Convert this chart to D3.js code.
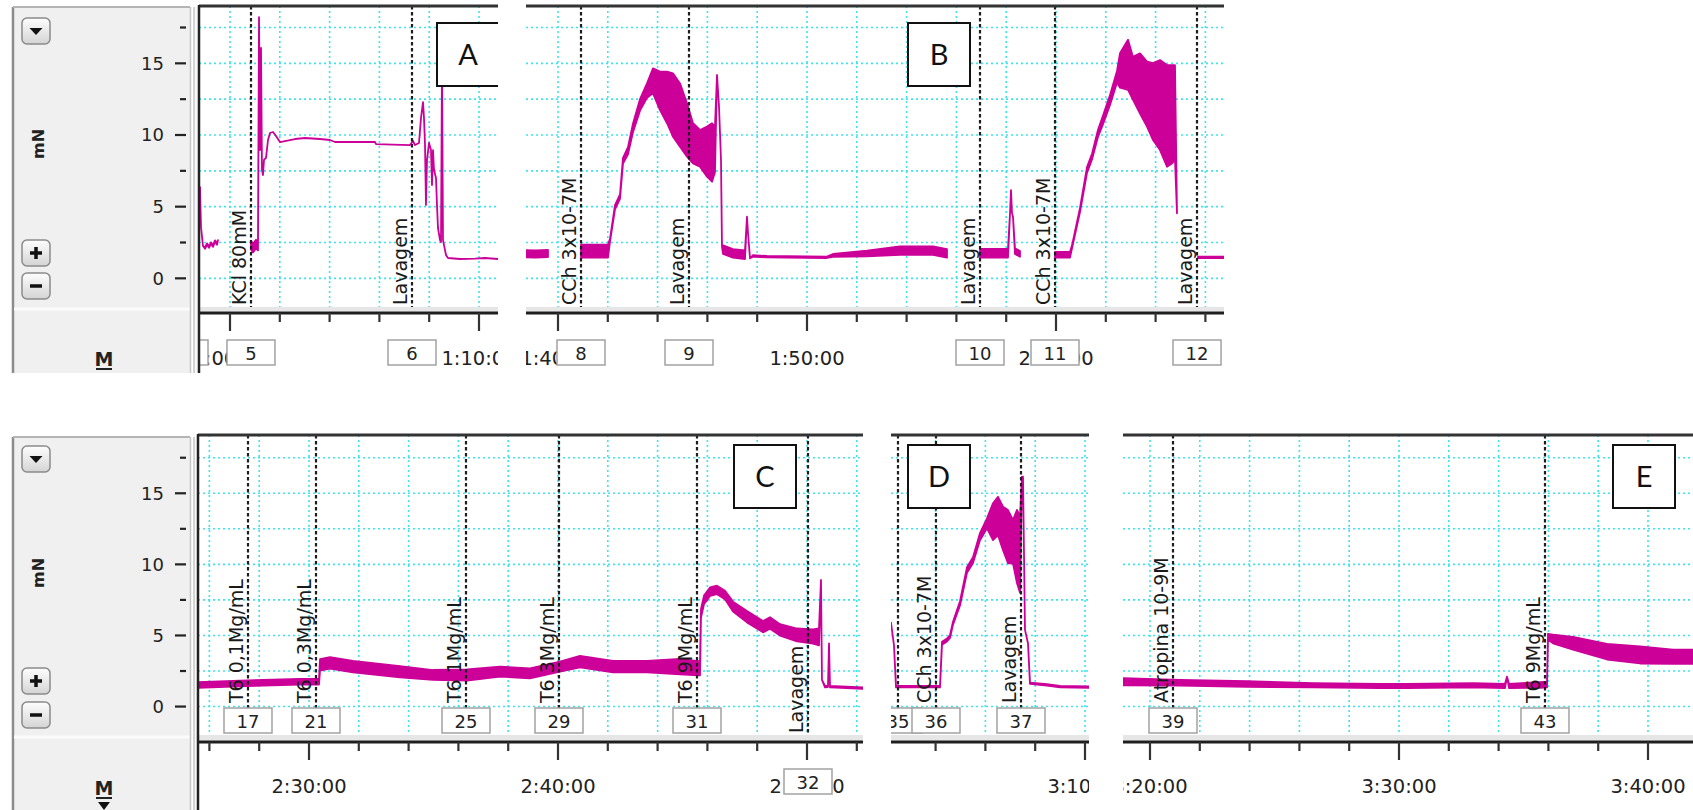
<!DOCTYPE html>
<html lang="en">
<head>
<meta charset="utf-8">
<title>Registro de tensao - mN</title>
<script src="https://cdn.jsdelivr.net/npm/d3@7/dist/d3.min.js"></script>
<style>
  body { margin: 0; background: #fff; }
  svg { display: block; font-family: "DejaVu Sans", sans-serif; }
</style>
</head>
<body>
<svg id="chart" width="1693" height="810"></svg>
<script>
// ---------- data ----------
var yDomain = [-2, 19];
var yMajor = [0, 5, 10, 15];
var yMinor = [2.5, 7.5, 12.5, 17.5];

var panelNames = ["A", "B", "C", "D", "E"];
// visible time window of each view, in minutes since 0:00:00
var viewStart = [58.755, 98.715, 145.542, 182.209, 198.916];
var viewEnd   = [70.763, 126.747, 172.249, 190.161, 221.807];

// trace blocks: [minute, mN, half width of the noise band]
var traceA1 = [[58.795, 6.37, 0], [58.835, 3.58, 0], [58.916, 2.25, 0], [58.996, 2.11, 0.05], [59.076, 2.39, 0.05],
  [59.157, 2.18, 0.05], [59.237, 2.46, 0.05], [59.317, 2.25, 0.05], [59.398, 2.60, 0.05], [59.478, 2.39, 0.05], [59.518, 2.67, 0]];
var traceA2 = [[60.843, 2.32, 0.3], [60.924, 2.11, 0.3], [61.044, 2.39, 0.3], [61.124, 2.25, 0.3],
  [61.165, 18.23, 0], [61.205, 8.95, 0], [61.245, 16.07, 0], [61.285, 7.56, 0], [61.325, 7.21, 0], [61.365, 8.26, 0],
  [61.446, 8.40, 0], [61.526, 9.65, 0], [61.606, 10.14, 0], [61.727, 10.21, 0], [61.847, 9.93, 0], [62.008, 9.51, 0],
  [62.209, 9.58, 0], [62.610, 9.72, 0], [63.012, 9.79, 0], [63.614, 9.72, 0], [64.016, 9.65, 0], [64.217, 9.51, 0],
  [65.823, 9.51, 0], [65.863, 9.37, 0], [67.229, 9.30, 0], [67.349, 9.58, 0], [67.430, 9.30, 0], [67.590, 9.44, 0],
  [67.671, 11.19, 0], [67.751, 12.30, 0], [67.791, 11.19, 0], [67.831, 9.37, 0], [67.871, 5.12, 0], [67.912, 8.26, 0],
  [67.992, 9.44, 0], [68.072, 8.95, 0], [68.112, 6.51, 0], [68.153, 8.95, 0], [68.193, 7.56, 0], [68.273, 7.00, 0],
  [68.313, 5.12, 0], [68.353, 3.51, 0], [68.434, 2.67, 0], [68.474, 2.53, 0], [68.514, 15.0, 0], [68.554, 2.67, 0],
  [68.594, 2.32, 0], [68.675, 1.63, 0], [68.755, 1.42, 0], [69.237, 1.35, 0], [69.839, 1.38, 0], [70.241, 1.42, 0], [70.763, 1.35, 0]];

var traceB1 = [[98.715, 1.72, 0.25], [99.100, 1.70, 0.25], [99.598, 1.74, 0.25]];
var traceB2 = [[100.924, 1.9, 0.45], [102.008, 1.9, 0.45], [102.088, 2.65, 0.1], [102.289, 4.96, 0.15], [102.490, 5.7, 0.15],
  [102.610, 8.2, 0.2], [102.811, 8.9, 0.25], [103.012, 10.5, 0.3], [103.293, 12.1, 0.4], [103.574, 13.1, 0.5],
  [103.815, 13.78, 0.87], [104.096, 13.08, 1.34], [104.378, 12.62, 1.8], [104.618, 12.09, 2.21], [104.900, 11.39, 2.21],
  [105.181, 10.35, 1.86], [105.422, 9.42, 1.4], [105.703, 9.07, 1.28], [105.984, 8.84, 1.75], [106.185, 8.78, 2.04],
  [106.305, 9.0, 1.6], [106.386, 14.19, 0], [106.466, 12.0, 0], [106.546, 8.26, 0], [106.586, 2.21, 0], [106.627, 2.0, 0.3],
  [107.028, 1.74, 0.3], [107.510, 1.65, 0.3], [107.590, 4.3, 0], [107.631, 3.16, 0], [107.711, 1.4, 0], [107.831, 1.56, 0.05],
  [108.394, 1.51, 0.05], [110.803, 1.47, 0.05], [111.044, 1.6, 0.1], [112.410, 1.74, 0.2], [113.735, 1.93, 0.3],
  [115.060, 1.93, 0.3], [115.622, 1.74, 0.3]];
var traceB3 = [[116.948, 1.75, 0.3], [117.751, 1.75, 0.3], [118.072, 1.75, 0.3], [118.153, 4.54, 0], [118.193, 6.16, 0],
  [118.233, 4.54, 0], [118.273, 4.3, 0], [118.353, 1.9, 0.2], [118.554, 1.7, 0.2]];
var traceB4 = [[119.960, 1.65, 0.2], [120.562, 1.65, 0.2], [120.643, 2.2, 0.1], [120.964, 4.77, 0.15], [121.245, 7.56, 0.2],
  [121.446, 8.49, 0.2], [121.687, 10.12, 0.25], [121.888, 11.05, 0.3], [122.169, 12.44, 0.35], [122.450, 14.07, 0.4],
  [122.570, 14.5, 1.2], [122.892, 14.9, 1.75], [123.092, 13.95, 1.5], [123.373, 13.6, 2.1], [123.655, 12.85, 2.27],
  [123.896, 12.33, 2.68], [124.177, 12.09, 3.14], [124.458, 11.34, 3.55], [124.659, 11.45, 3.43], [124.779, 11.57, 3.31],
  [124.859, 4.54, 0]];
var traceB5 = [[125.703, 1.46, 0.05], [126.747, 1.46, 0.05]];

var traceC = [[145.542, 1.52, 0.2], [147.510, 1.64, 0.2], [149.639, 1.75, 0.2], [150.402, 1.75, 0.2], [150.442, 2.93, 0.4],
  [150.843, 3.07, 0.4], [151.767, 2.81, 0.4], [153.655, 2.45, 0.4], [154.980, 2.22, 0.35], [156.345, 2.22, 0.4],
  [157.671, 2.45, 0.35], [158.876, 2.34, 0.35], [160.080, 2.81, 0.35], [160.884, 3.16, 0.4], [162.209, 2.81, 0.4],
  [163.574, 2.81, 0.4], [164.900, 2.81, 0.55], [165.622, 2.69, 0.5], [165.703, 2.7, 0.5], [165.743, 6.56, 0.3],
  [165.863, 7.5, 0.3], [166.104, 8.08, 0.3], [166.386, 8.2, 0.3], [166.707, 7.85, 0.3], [167.028, 7.03, 0.35],
  [167.590, 6.32, 0.4], [168.233, 5.62, 0.4], [168.514, 5.88, 0.4], [168.916, 5.39, 0.4], [169.598, 5.04, 0.45],
  [170.241, 4.92, 0.5], [170.482, 4.9, 0.6], [170.562, 8.9, 0], [170.602, 1.87, 0], [170.723, 1.4, 0.05],
  [170.843, 1.42, 0.05], [170.884, 4.45, 0], [170.924, 1.4, 0.05], [172.249, 1.29, 0.05]];

var traceD = [[182.209, 5.9, 0], [182.329, 4.3, 0], [182.410, 1.4, 0.05], [184.177, 1.4, 0.05], [184.257, 4.45, 0.1],
  [184.458, 4.68, 0.1], [184.578, 4.92, 0.1], [184.699, 5.86, 0.1], [184.980, 7.26, 0.15], [185.261, 9.6, 0.2],
  [185.502, 10.3, 0.2], [185.783, 11.95, 0.25], [186.064, 12.89, 0.35], [186.305, 13.0, 1.3], [186.506, 13.4, 1.35],
  [186.707, 12.53, 1.53], [186.908, 11.95, 1.87], [187.108, 11.6, 1.52], [187.269, 11.25, 2.58], [187.390, 10.7, 2.7],
  [187.470, 16.17, 0], [187.510, 16.17, 0], [187.590, 5.39, 0], [187.711, 4.45, 0], [187.791, 1.64, 0.05],
  [188.474, 1.52, 0.05], [188.996, 1.4, 0.05], [190.161, 1.36, 0.05]];

var traceE = [[198.916, 1.75, 0.25], [201.205, 1.68, 0.2], [203.896, 1.59, 0.2], [206.546, 1.5, 0.15], [209.237, 1.45, 0.15],
  [210.321, 1.45, 0.15], [212.972, 1.5, 0.15], [214.257, 1.45, 0.15], [214.337, 2.1, 0], [214.418, 1.45, 0.15],
  [215.663, 1.52, 0.2], [215.944, 1.55, 0.2], [215.984, 4.92, 0.2], [216.185, 4.75, 0.3], [216.988, 4.45, 0.45],
  [218.353, 3.86, 0.55], [219.679, 3.63, 0.6], [221.004, 3.51, 0.5], [221.807, 3.51, 0.5]];

// comments: [number, minute, text]
var commentsA = [[4, 58.153, ""], [5, 60.843, "KCl 80mM"], [6, 67.309, "Lavagem"]];
var commentsB = [[8, 100.924, "CCh 3x10-7M"], [9, 105.261, "Lavagem"], [10, 116.948, "Lavagem"],
  [11, 119.960, "CCh 3x10-7M"], [12, 125.663, "Lavagem"]];
var commentsC = [[17, 147.550, "T6 0,1Mg/mL"], [21, 150.281, "T6 0,3Mg/mL"], [25, 156.305, "T6 1Mg/mL"],
  [29, 160.040, "T6 3Mg/mL"], [31, 165.582, "T6 9Mg/mL"], [32, 170.040, "Lavagem"]];
var commentsD = [[35, 182.490, ""], [36, 184.016, "CCh 3x10-7M"], [37, 187.430, "Lavagem"]];
var commentsE = [[39, 200.924, "Atropina 10-9M"], [43, 215.863, "T6 9Mg/mL"]];

var tracesByPanel = [[traceA1, traceA2], [traceB1, traceB2, traceB3, traceB4, traceB5], [traceC], [traceD], [traceE]];
var commentsByPanel = [commentsA, commentsB, commentsC, commentsD, commentsE];

// ---------- layout ----------
var rows = [
  {sideTop: 7, top: 6, bottom: 307, yHi: 6, axis: 313, tickLab: 365, end: 373, boxTop: 340, labelBottom: 305,
   btn: [18, 240, 273], mN: 144, M: 366},
  {sideTop: 437, top: 435, bottom: 735, yHi: 436.4, axis: 742, tickLab: 793, end: 810, boxTop: 708, labelBottom: 703,
   btn: [446, 668, 702], mN: 573, M: 795}
];
var panels = [
  {row: 0, x0: 199, x1: 498, letter: [437, 23], first: true},
  {row: 0, x0: 526, x1: 1224, letter: [908, 23]},
  {row: 1, x0: 198, x1: 863, letter: [734, 445], first: true},
  {row: 1, x0: 891, x1: 1089, letter: [908, 445]},
  {row: 1, x0: 1123, x1: 1693, letter: [1613, 445]}
];
// LabChart pushed the box of comment 32 down into the time row
var timeRowBoxes = [32];

var magenta = "#cc0099";
var gridColor = "#3ee4ee";

var svg = d3.select("#chart");
var defs = svg.append("defs");
var grad = defs.append("linearGradient").attr("id", "btnGrad").attr("x1", 0).attr("y1", 0).attr("x2", 0).attr("y2", 1);
grad.append("stop").attr("offset", "0%").attr("stop-color", "#fefefe");
grad.append("stop").attr("offset", "100%").attr("stop-color", "#d4d4d4");

function hms(m) {
  var s = Math.round(m * 60);
  var h = Math.floor(s / 3600), mm = Math.floor((s % 3600) / 60), ss = s % 60;
  return h + ":" + d3.format("02d")(mm) + ":" + d3.format("02d")(ss);
}

function yScale(r) {
  return d3.scaleLinear().domain(yDomain).range([r.bottom, r.yHi]);
}

function button(g, yTop, sym) {
  var b = g.append("g").attr("transform", "translate(22," + yTop + ")");
  b.append("rect").attr("width", 28).attr("height", 26).attr("rx", 5)
    .attr("fill", "url(#btnGrad)").attr("stroke", "#8a8a8a").attr("stroke-width", 1.5);
  if (sym === "down") b.append("path").attr("d", "M7.5,10 L20.5,10 L14,17 Z").attr("fill", "#111");
  if (sym === "plus") b.append("path").attr("d", "M8,13 H20 M14,7 V19").attr("stroke", "#111").attr("stroke-width", 3.5);
  if (sym === "minus") b.append("path").attr("d", "M8,13 H20").attr("stroke", "#111").attr("stroke-width", 3.5);
}

// ---------- left side panels (y axis) ----------
rows.forEach(function(r, ri) {
  var y = yScale(r);
  var g = svg.append("g");
  g.append("rect").attr("x", 13).attr("y", r.sideTop).attr("width", 178).attr("height", r.end - r.sideTop).attr("fill", "#f0f0f0");
  g.append("rect").attr("x", 195).attr("y", r.sideTop).attr("width", 3).attr("height", r.end - r.sideTop).attr("fill", "#f8f8f8");
  g.append("line").attr("x1", 13).attr("x2", 13).attr("y1", r.sideTop).attr("y2", r.end).attr("stroke", "#8c8c8c").attr("stroke-width", 2.5);
  g.append("line").attr("x1", 13).attr("x2", 190).attr("y1", r.sideTop).attr("y2", r.sideTop).attr("stroke", "#b4b4b4").attr("stroke-width", 2);
  g.append("line").attr("x1", 14).attr("x2", 190).attr("y1", r.bottom + 2).attr("y2", r.bottom + 2).attr("stroke", "#fbfbfb").attr("stroke-width", 3);
  [190.5, 194].forEach(function(sx) {
    g.append("line").attr("x1", sx).attr("x2", sx).attr("y1", r.sideTop).attr("y2", r.end).attr("stroke", "#c6c6c6").attr("stroke-width", 1.5);
  });

  g.selectAll(".ymaj").data(yMajor).join("line")
    .attr("x1", 175).attr("x2", 186).attr("y1", d => y(d)).attr("y2", d => y(d))
    .attr("stroke", "#222").attr("stroke-width", 2.2);
  g.selectAll(".ymin").data(yMinor).join("line")
    .attr("x1", 180).attr("x2", 186).attr("y1", d => y(d)).attr("y2", d => y(d))
    .attr("stroke", "#222").attr("stroke-width", 2.2);
  g.selectAll(".ylab").data(yMajor).join("text")
    .attr("x", 164).attr("y", d => y(d)).attr("dy", "0.36em").attr("text-anchor", "end")
    .attr("font-size", 18).attr("fill", "#222").text(d => d);

  button(g, r.btn[0], "down");
  button(g, r.btn[1], "plus");
  button(g, r.btn[2], "minus");

  g.append("text").attr("transform", "translate(38," + r.mN + ") rotate(-90)")
    .attr("text-anchor", "middle").attr("dy", "0.35em").attr("font-size", 16).attr("font-weight", "bold")
    .attr("fill", "#222").text("mN");

  g.append("text").attr("x", 104).attr("y", r.M).attr("text-anchor", "middle")
    .attr("font-size", 19).attr("font-weight", "bold").attr("fill", "#222").text("M");
  g.append("line").attr("x1", 96).attr("x2", 112).attr("y1", r.M + 3).attr("y2", r.M + 3).attr("stroke", "#222").attr("stroke-width", 2);
  if (ri === 1) g.append("path").attr("d", "M98,802 L110,802 L104,810 Z").attr("fill", "#111");
});

// ---------- chart views ----------
panels.forEach(function(p, i) {
  var r = rows[p.row];
  var x = d3.scaleLinear().domain([viewStart[i], viewEnd[i]]).range([p.x0, p.x1]);
  var y = yScale(r);

  defs.append("clipPath").attr("id", "clip" + i).append("rect")
    .attr("x", p.x0).attr("y", r.top - 2).attr("width", p.x1 - p.x0).attr("height", r.end - r.top + 2);
  var g = svg.append("g").attr("clip-path", "url(#clip" + i + ")");

  g.append("rect").attr("x", p.x0).attr("y", r.top).attr("width", p.x1 - p.x0).attr("height", r.bottom - r.top).attr("fill", "#fff");

  var ticks = d3.range(Math.ceil(viewStart[i] / 2) * 2, viewEnd[i] + 1e-9, 2);

  // dotted grid
  g.selectAll(".vg").data(ticks).join("line")
    .attr("x1", d => x(d)).attr("x2", d => x(d)).attr("y1", r.top).attr("y2", r.bottom)
    .attr("stroke", gridColor).attr("stroke-width", 1.6).attr("stroke-dasharray", "2,3");
  g.selectAll(".hg").data(yMajor.concat(yMinor)).join("line")
    .attr("x1", p.x0).attr("x2", p.x1).attr("y1", d => y(d)).attr("y2", d => y(d))
    .attr("stroke", gridColor).attr("stroke-width", 1.6).attr("stroke-dasharray", "2,3");

  // trace
  var area = d3.area().x(d => x(d[0])).y0(d => y(d[1] - d[2])).y1(d => y(d[1] + d[2]));
  tracesByPanel[i].forEach(function(seg) {
    g.append("path").datum(seg).attr("d", area)
      .attr("fill", magenta).attr("stroke", magenta).attr("stroke-width", 1.8).attr("stroke-linejoin", "round");
  });

  // comments
  var comments = commentsByPanel[i];
  g.selectAll(".cm").data(comments).join("line")
    .attr("x1", d => x(d[1])).attr("x2", d => x(d[1])).attr("y1", r.top).attr("y2", r.bottom)
    .attr("stroke", "#1e1e1e").attr("stroke-width", 2.2).attr("stroke-dasharray", "3.5,2.5");
  comments.forEach(function(c) {
    var dropped = timeRowBoxes.indexOf(c[0]) >= 0;
    var yb = (p.row === 1 && dropped) ? r.bottom - 2 : r.labelBottom;
    g.append("text").attr("transform", "translate(" + (x(c[1]) - 5) + "," + yb + ") rotate(-90)")
      .attr("font-size", 19).attr("fill", "#1a1a1a").text(c[2]);
  });

  // time axis
  g.append("rect").attr("x", p.x0).attr("y", r.bottom).attr("width", p.x1 - p.x0).attr("height", r.axis - r.bottom - 1.5).attr("fill", "#e6e6e6");
  g.append("line").attr("x1", p.x0).attr("x2", p.x1).attr("y1", r.axis).attr("y2", r.axis).attr("stroke", "#1e1e1e").attr("stroke-width", 3);
  g.selectAll(".tk").data(ticks).join("line")
    .attr("x1", d => x(d)).attr("x2", d => x(d)).attr("y1", r.axis)
    .attr("y2", d => r.axis + (Math.abs(d % 10) < 1e-6 ? 18 : 9))
    .attr("stroke", "#333").attr("stroke-width", 2.2);
  g.selectAll(".tl").data(ticks.filter(d => Math.abs(d % 10) < 1e-6)).join("text")
    .attr("x", d => x(d)).attr("y", r.tickLab).attr("text-anchor", "middle")
    .attr("font-size", 19.5).attr("fill", "#222").text(d => hms(d));

  // comment number boxes
  comments.forEach(function(c) {
    var dropped = timeRowBoxes.indexOf(c[0]) >= 0;
    var top = dropped ? r.tickLab - 24 : r.boxTop;
    var cx = x(c[1]);
    g.append("rect").attr("x", cx - 24).attr("y", top).attr("width", 48).attr("height", 25)
      .attr("fill", "#fff").attr("stroke", "#a2a2a2").attr("stroke-width", 1.5);
    g.append("text").attr("x", cx).attr("y", top + 20).attr("text-anchor", "middle")
      .attr("font-size", 18).attr("fill", "#222").text(c[0]);
  });

  // panel letter
  g.append("rect").attr("x", p.letter[0]).attr("y", p.letter[1]).attr("width", 62).attr("height", 63)
    .attr("fill", "#fff").attr("stroke", "#111").attr("stroke-width", 2);
  g.append("text").attr("x", p.letter[0] + 31).attr("y", p.letter[1] + 42).attr("text-anchor", "middle")
    .attr("font-family", "Lato, sans-serif").attr("font-size", 29).attr("fill", "#111").text(panelNames[i]);

  // frame
  g.append("line").attr("x1", p.x0).attr("x2", p.x1).attr("y1", r.top).attr("y2", r.top).attr("stroke", "#333").attr("stroke-width", 3);
  if (p.first) {
    svg.append("line").attr("x1", p.x0).attr("x2", p.x0).attr("y1", r.top - 1).attr("y2", r.end)
      .attr("stroke", "#222").attr("stroke-width", 2.5);
  }
});
</script>
</body>
</html>
